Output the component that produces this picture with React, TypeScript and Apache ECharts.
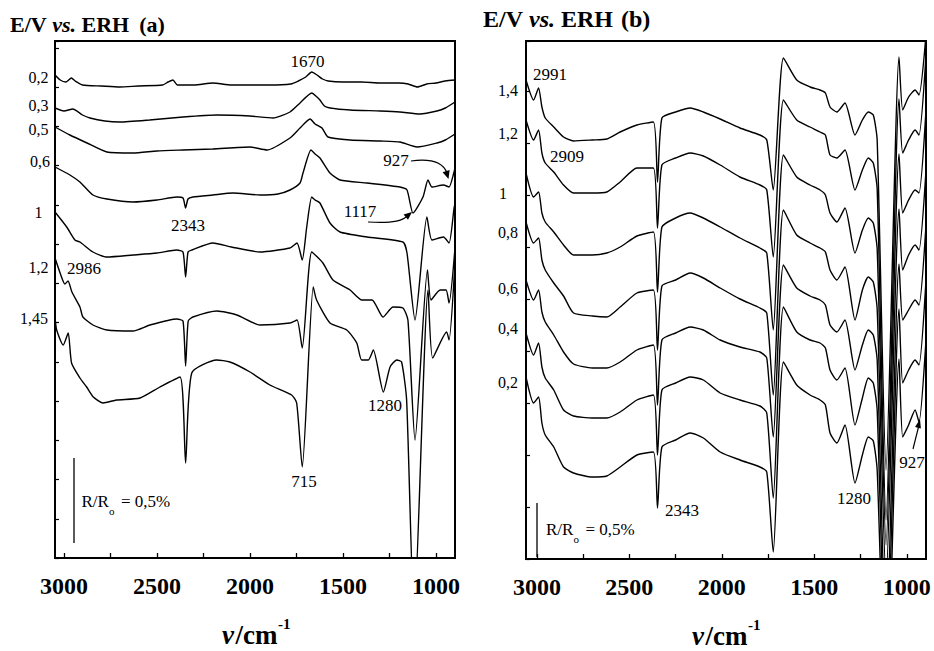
import React, { useEffect, useRef } from "react";
import * as echarts from "echarts";

// ---------- data ----------
const X_TICKS = [3000, 2500, 2000, 1500, 1000];
const X_TICKS_ALL = [3000, 2750, 2500, 2250, 2000, 1750, 1500, 1250, 1000];

// Panel (a): [wavenumber, signal (a.u., offset stacked)]
const A_02: [number, number][] = [[3048,483],[3020,478],[2990,476],[2960,480],[2940,477],[2900,473],[2800,472],[2700,471],[2600,472],[2470,473],[2440,476],[2414,478],[2390,473],[2300,473],[2200,475],[2100,473],[1900,473],[1780,474],[1740,477],[1700,481],[1668,486],[1640,483],[1610,479],[1580,477],[1500,476],[1400,476],[1300,475],[1200,475],[1150,474],[1100,471],[1050,474],[1000,475],[950,477],[898,478]];
const A_03: [number, number][] = [[3048,450],[3000,447],[2952,449],[2900,443],[2860,440],[2780,437],[2700,436],[2540,438],[2360,441],[2180,443],[2000,442],[1876,440],[1785,446],[1731,455],[1668,465],[1640,461],[1624,458],[1600,452],[1570,450],[1462,448],[1300,447],[1194,446],[1086,444],[995,447],[950,450],[898,456]];
const A_05: [number, number][] = [[3048,431],[2968,423],[2876,415],[2769,406],[2629,405],[2500,407],[2360,408],[2200,409],[2000,411],[1909,408],[1785,420],[1731,430],[1677,439],[1650,434],[1613,430],[1581,421],[1462,418],[1300,417],[1194,416],[1102,411],[995,415],[950,418],[898,424]];
const A_06: [number, number][] = [[3048,391],[2968,383],[2914,376],[2844,363],[2769,359],[2629,356],[2500,358],[2393,361],[2360,360],[2346,350],[2333,359],[2307,361],[2200,363],[2091,365],[1946,363],[1850,364],[1785,368],[1731,375],[1715,385],[1672,408],[1650,404],[1624,400],[1570,385],[1516,378],[1371,375],[1194,371],[1156,368],[1124,345],[1070,361],[1043,378],[1022,371],[960,373],[930,371],[903,386],[898,390]];
const A_1: [number, number][] = [[3048,346],[2985,331],[2941,318],[2914,316],[2844,306],[2769,301],[2629,303],[2500,305],[2393,308],[2360,306],[2346,281],[2333,306],[2312,308],[2199,315],[2100,311],[1946,306],[1785,310],[1747,315],[1719,298],[1695,331],[1668,361],[1650,358],[1624,355],[1570,335],[1516,326],[1371,321],[1178,316],[1156,305],[1113,238],[1049,341],[1022,318],[960,321],[930,315],[903,350],[898,354]];
const A_12: [number, number][] = [[3048,300],[3011,280],[2995,274],[2978,277],[2957,266],[2914,251],[2898,241],[2844,233],[2769,228],[2629,227],[2538,233],[2393,239],[2360,237],[2346,192],[2332,237],[2307,241],[2177,247],[2070,243],[1946,233],[1785,235],[1747,238],[1719,210],[1668,306],[1608,295],[1554,278],[1462,268],[1398,258],[1344,258],[1285,241],[1231,251],[1178,250],[1151,238],[1113,118],[1046,288],[1027,258],[978,268],[946,268],[930,255],[898,310]];
const A_145: [number, number][] = [[3048,241],[3039,228],[3004,213],[2977,225],[2959,195],[2914,180],[2878,171],[2842,161],[2789,155],[2717,158],[2591,160],[2484,171],[2376,181],[2346,95],[2313,185],[2179,198],[2108,196],[2000,186],[1893,173],[1776,163],[1749,155],[1719,91],[1660,271],[1642,258],[1570,235],[1480,228],[1426,215],[1400,198],[1364,198],[1337,208],[1283,166],[1247,191],[1211,198],[1185,196],[1158,158],[1118,-60],[1043,268],[1018,200],[943,226],[930,218],[898,296]];

// Panel (b): shared wavenumber grid
const WN_B = [3059,3018,2991,2973,2955,2909,2856,2802,2700,2622,2550,2459,2370,2348,2324,2250,2171,2100,2009,1902,1794,1757,1722,1667,1595,1523,1469,1440,1415,1378,1334,1280,1240,1208,1181,1160,1112,1042,1022,990,955,934,896];
const B_14 = [479,459,471,452,441,432,422,418,419,420,427,434,437,377,441,447,451,447,440,431,424,419,369,501,479,472,469,466,452,447,456,424,439,447,444,419,89,502,449,462,469,464,524];
const B_12 = [439,419,429,406,396,387,374,366,366,367,377,391,391,331,394,401,406,403,394,382,374,369,302,459,439,432,427,424,404,401,409,369,389,401,396,370,39,460,406,419,429,424,504];
const B_10 = [386,362,367,346,337,327,314,304,304,306,312,323,327,267,332,341,346,341,332,321,311,306,229,404,382,374,369,364,346,337,351,306,329,341,336,310,14,405,346,359,369,366,449];
const B_08 = [337,316,321,299,289,276,263,246,243,242,252,266,269,209,273,279,286,281,271,260,251,246,164,349,324,316,311,307,289,279,292,239,269,282,277,250,-21,350,289,304,314,309,389];
const B_06 = [279,259,269,247,237,224,207,195,191,191,197,209,214,154,219,226,232,229,219,212,207,201,122,294,271,263,259,254,234,227,239,189,214,229,224,199,-81,295,239,249,259,254,334];
const B_04 = [226,204,216,192,181,169,149,143,141,141,147,159,164,104,169,176,182,179,166,159,153,146,61,252,227,219,216,211,189,179,191,134,161,181,176,149,-121,250,176,189,199,194,279];
const B_02 = [182,156,162,136,124,112,92,86,82,83,92,104,107,51,112,119,126,121,107,99,92,87,7,197,174,164,159,154,126,116,134,76,104,122,118,89,-161,200,122,134,149,137,219];

const A_SERIES = [A_02, A_03, A_05, A_06, A_1, A_12, A_145];
const B_SERIES = [B_14, B_12, B_10, B_08, B_06, B_04, B_02];
const A_NAMES = ["0,2", "0,3", "0,5", "0,6", "1", "1,2", "1,45"];
const B_NAMES = ["1,4", "1,2", "1", "0,8", "0,6", "0,4", "0,2"];

// ---------- styling ----------
const FONT = '"Liberation Serif", "Times New Roman", serif';

function makeXAxis(gridIndex: number, min: number, max: number) {
  return {
    type: "value",
    gridIndex,
    min,
    max,
    inverse: true,
    axisLine: { show: false },
    axisTick: {
      show: true,
      inside: true,
      length: 5,
      customValues: X_TICKS_ALL,
      lineStyle: { color: "#000", width: 1.3 },
    },
    axisLabel: {
      show: true,
      customValues: X_TICKS,
      formatter: (v: number) => String(Math.round(v)),
      fontFamily: FONT,
      fontWeight: "bold",
      fontSize: 24,
      color: "#000",
      margin: 16,
    },
    splitLine: { show: false },
  };
}

function makeYAxis(gridIndex: number, max: number, interval: number) {
  return {
    type: "value",
    gridIndex,
    min: 0,
    max,
    interval,
    axisLine: { show: false },
    axisTick: { show: true, inside: true, length: 4, lineStyle: { color: "#000", width: 1.2 } },
    axisLabel: { show: false },
    splitLine: { show: false },
  };
}

function txt(x: number, y: number, text: string, size: number, extra: any = {}) {
  return {
    type: "text",
    x,
    y,
    silent: true,
    style: {
      text,
      fontFamily: FONT,
      fontSize: size,
      fill: "#000",
      align: "center",
      verticalAlign: "middle",
      ...extra,
    },
  };
}

function title(x: number, y: number, letter: string, size: number, gapPx: number) {
  const w1 = size * (0.667 + 0.278 + 0.722 + 0.25);
  const w2 = size * (0.444 + 0.389 + 0.25);
  return [
    txt(x, y, "E/V", size, { align: "left", fontWeight: "bold" }),
    txt(x + w1, y, "vs.", size, { align: "left", fontWeight: "bold", fontStyle: "italic" }),
    txt(x + w1 + w2 + size * 0.25, y, "ERH", size, { align: "left", fontWeight: "bold" }),
    txt(x + w1 + w2 + size * (0.25 + 2.167) + gapPx, y, `(${letter})`, size, { align: "left", fontWeight: "bold" }),
  ];
}

function axisName(left: number, y: number) {
  return [
    txt(left, y, "ν", 27, { align: "left", fontWeight: "bold", fontStyle: "italic" }),
    txt(left + 13.5, y, "/cm", 27, { align: "left", fontWeight: "bold" }),
    txt(left + 56, y - 11, "-1", 15, { align: "left", fontWeight: "bold" }),
  ];
}

function scaleBar(x: number, y1: number, y2: number, tx: number, ty: number) {
  return [
    { type: "line", silent: true, shape: { x1: x, y1, x2: x, y2 }, style: { stroke: "#000", lineWidth: 1.3 } },
    txt(tx, ty, "R/R", 17, { align: "left" }),
    txt(tx + 27.5, ty + 10, "o", 11, { align: "left" }),
    txt(tx + 39.5, ty, "= 0,5%", 17, { align: "left" }),
  ];
}

export default function App() {
  const ref = useRef<HTMLDivElement>(null);

  useEffect(() => {
    if (!ref.current) return;
    const chart = echarts.init(ref.current, null, { renderer: "svg" });

    const lineCommon = {
      type: "line",
      showSymbol: false,
      symbol: "none",
      clip: true,
      smooth: 0.2,
      lineStyle: { color: "#000", width: 1.4 },
    };

    const series: any[] = [];
    A_SERIES.forEach((d, i) => {
      series.push({ ...lineCommon, name: "a " + A_NAMES[i], xAxisIndex: 0, yAxisIndex: 0, data: d });
    });
    B_SERIES.forEach((vals, i) => {
      series.push({
        ...lineCommon,
        name: "b " + B_NAMES[i],
        xAxisIndex: 1,
        yAxisIndex: 1,
        data: WN_B.map((w, k) => [w, vals[k]]),
      });
    });

    const aLabelY = [77, 105, 129, 161, 212, 267, 318];
    const aLabelX = [38.5, 38.5, 38.5, 40, 38.5, 38.5, 34];
    const bLabelY = [90, 133, 193, 232, 288, 328, 382];
    const bLabelX = [508, 508, 503, 508, 508, 508, 508];

    const graphic: any[] = [
      ...title(10, 24, "a", 22, 10),
      ...title(483, 19, "b", 24, 8),
      ...axisName(222, 635),
      ...axisName(692, 636),
      ...A_NAMES.map((n, i) => txt(aLabelX[i], aLabelY[i], n, 16)),
      ...B_NAMES.map((n, i) => txt(bLabelX[i], bLabelY[i], n, 16)),
      // annotations (a)
      txt(307.5, 61, "1670", 17),
      txt(396, 160, "927", 17),
      txt(360, 211, "1117", 17),
      txt(188, 225, "2343", 17),
      txt(84, 268, "2986", 17),
      txt(385, 405, "1280", 17),
      txt(304, 481, "715", 17),
      // annotations (b)
      txt(550, 74, "2991", 17),
      txt(567, 156, "2909", 17),
      txt(682, 510, "2343", 17),
      txt(854, 498, "1280", 17),
      txt(912, 462, "927", 17),
      // arrows (a)
      {
        type: "bezierCurve",
        silent: true,
        shape: { x1: 411, y1: 161, x2: 447, y2: 173, cpx1: 441, cpy1: 157 },
        style: { stroke: "#000", lineWidth: 1.2, fill: null },
      },
      { type: "polygon", silent: true, shape: { points: [[448.5, 179], [442.6, 172.2], [449.6, 170]] }, style: { fill: "#000" } },
      {
        type: "bezierCurve",
        silent: true,
        shape: { x1: 368, y1: 222, x2: 406, y2: 217, cpx1: 398, cpy1: 224 },
        style: { stroke: "#000", lineWidth: 1.2, fill: null },
      },
      { type: "polygon", silent: true, shape: { points: [[412, 212], [403.6, 214.4], [408, 219.8]] }, style: { fill: "#000" } },
      // arrow (b)
      { type: "line", silent: true, shape: { x1: 913, y1: 449, x2: 918.5, y2: 427 }, style: { stroke: "#000", lineWidth: 1.2 } },
      { type: "polygon", silent: true, shape: { points: [[920, 419], [915.1, 427], [920.9, 428.5]] }, style: { fill: "#000" } },
      // scale bars
      ...scaleBar(74, 458, 543, 81.5, 501),
      ...scaleBar(537, 503, 557, 546, 529),
    ];

    chart.setOption({
      animation: false,
      backgroundColor: "#fff",
      grid: [
        { left: 55, top: 41, width: 400, height: 517, show: true, borderColor: "#000", borderWidth: 2, backgroundColor: "transparent", outerBoundsMode: "none", containLabel: false },
        { left: 526, top: 41, width: 400, height: 518, show: true, borderColor: "#000", borderWidth: 2, backgroundColor: "transparent", outerBoundsMode: "none", containLabel: false },
      ],
      xAxis: [makeXAxis(0, 898, 3048), makeXAxis(1, 896, 3059)],
      yAxis: [makeYAxis(0, 517, 39.25), makeYAxis(1, 518, 52)],
      series,
      graphic,
    });

    return () => {
      chart.dispose();
    };
  }, []);

  return (
    <div
      ref={ref}
      style={{ position: "fixed", left: 0, top: 0, width: 934, height: 651, background: "#fff" }}
    />
  );
}
